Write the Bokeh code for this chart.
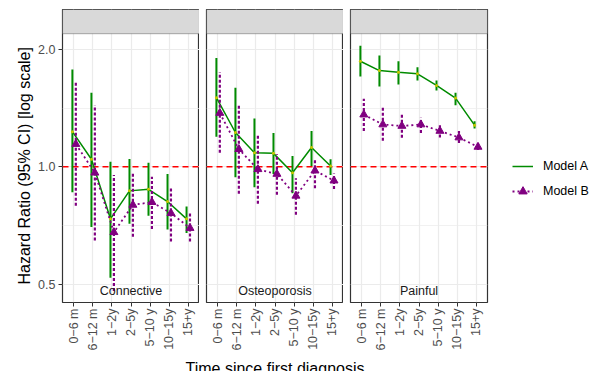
import numpy as np
from bokeh.plotting import figure
from bokeh.layouts import row, column
from bokeh.models import (Range1d, FixedTicker, PrintfTickFormatter, Span, BoxAnnotation,
                          Label, Legend, LegendItem, Title)
from bokeh.embed import file_html
from bokeh.resources import INLINE

# ---------------- data ----------------
periods = ["0−6 m", "6−12 m", "1−2y", "2−5y", "5−10 y", "10−15y", "15+y"]
panels = ["Connective", "Osteoporosis", "Painful"]
y_ticks = [0.5, 1.0, 2.0]

conn_a_hr = [1.23, 1.045, 0.735, 0.867, 0.875, 0.814, 0.735]
conn_a_lo = [0.86, 0.70, 0.519, 0.714, 0.749, 0.690, 0.676]
conn_a_hi = [1.775, 1.548, 1.03, 1.046, 1.024, 0.958, 0.79]
conn_b_hr = [1.143, 0.965, 0.679, 0.798, 0.811, 0.76, 0.696]
conn_b_lo = [0.794, 0.647, 0.48, 0.661, 0.692, 0.643, 0.643]
conn_b_hi = [1.647, 1.437, 0.952, 0.961, 0.943, 0.889, 0.76]

osteo_a_hr = [1.503, 1.224, 1.086, 1.082, 0.965, 1.12, 1.004]
osteo_a_lo = [1.193, 0.94, 0.886, 0.958, 0.855, 1.004, 0.952]
osteo_a_hi = [1.90, 1.594, 1.329, 1.221, 1.065, 1.235, 1.045]
osteo_b_hr = [1.373, 1.109, 0.985, 0.958, 0.842, 0.977, 0.921]
osteo_b_lo = [1.086, 0.852, 0.803, 0.847, 0.753, 0.881, 0.877]
osteo_b_hi = [1.747, 1.445, 1.205, 1.078, 0.934, 1.045, 0.961]

pain_a_hr = [1.864, 1.764, 1.747, 1.731, 1.616, 1.50, 1.278]
pain_a_lo = [1.704, 1.607, 1.625, 1.664, 1.569, 1.437, 1.253]
pain_a_hi = [2.044, 1.928, 1.864, 1.799, 1.664, 1.548, 1.308]
pain_b_hr = [1.36, 1.283, 1.272, 1.283, 1.235, 1.188, 1.124]
pain_b_lo = [1.235, 1.165, 1.186, 1.221, 1.188, 1.151, 1.103]
pain_b_hi = [1.495, 1.417, 1.368, 1.336, 1.278, 1.235, 1.151]

panel_data = {
    "Connective": (conn_a_hr, conn_a_lo, conn_a_hi, conn_b_hr, conn_b_lo, conn_b_hi),
    "Osteoporosis": (osteo_a_hr, osteo_a_lo, osteo_a_hi, osteo_b_hr, osteo_b_lo, osteo_b_hi),
    "Painful": (pain_a_hr, pain_a_lo, pain_a_hi, pain_b_hr, pain_b_lo, pain_b_hi),
}

x_title = "Time since first diagnosis"
y_title = "Hazard Ratio (95% CI) [log scale]"

# ---------------- style ----------------
FONT = "Liberation Sans"
GREEN = "#008B00"
PURPLE = "#800080"
DODGE_A = -0.08
DODGE_B = 0.10
Y_LO, Y_HI = 0.4484, 2.531
STRIP_BOTTOM = 2.1937
FW = 137
PANEL_H = 353          # total height of each panel figure (fixed)
TOTAL_W = 595
TH = 18                # height of the shared x-title strip

xpos = np.arange(1, len(periods) + 1)

figs = []
for i, name in enumerate(panels):
    first = i == 0
    last = i == len(panels) - 1
    a_hr, a_lo, a_hi, b_hr, b_lo, b_hi = panel_data[name]
    p = figure(frame_width=FW, height=PANEL_H, y_axis_type="log",
               x_range=Range1d(0.4, len(periods) + 0.6), y_range=Range1d(Y_LO, Y_HI),
               output_backend="svg", toolbar_location=None,
               y_axis_location="left" if first else None,
               min_border_left=62 if first else 7, min_border_right=108 if last else 0,
               min_border_top=9, min_border_bottom=50,
               background_fill_color="white", border_fill_color="white",
               outline_line_color="#333333", outline_line_width=1.2)

    # grids
    p.xgrid.ticker = FixedTicker(ticks=list(xpos))
    p.xgrid.grid_line_color = "#EBEBEB"
    p.xgrid.grid_line_width = 1.2
    minor = list(np.sqrt(np.array(y_ticks[:-1]) * np.array(y_ticks[1:])))
    p.ygrid.ticker = FixedTicker(ticks=y_ticks, minor_ticks=minor)
    p.ygrid.grid_line_color = "#EBEBEB"
    p.ygrid.grid_line_width = 1.2
    p.ygrid.minor_grid_line_color = "#EBEBEB"
    p.ygrid.minor_grid_line_width = 0.7

    # reference line
    p.add_layout(Span(location=1.0, dimension="width", line_color="red",
                      line_dash="6 4", line_width=1.5, level="underlay"))

    xa = xpos + DODGE_A
    xb = xpos + DODGE_B
    # Model A
    p.segment(x0=xa, y0=a_lo, x1=xa, y1=a_hi, line_color=GREEN, line_width=2)
    la = p.line(xa, a_hr, line_color=GREEN, line_width=1.5)
    p.scatter(xa, a_hr, marker="circle", size=3, fill_color="#C8C800", line_color=None)
    # Model B
    p.segment(x0=xb, y0=b_lo, x1=xb, y1=b_hi, line_color=PURPLE, line_width=2.2,
              line_dash="3 2")
    lb = p.line(xb, b_hr, line_color=PURPLE, line_width=1.8, line_dash="2 3")
    pb = p.scatter(xb, b_hr, marker="triangle", size=8, fill_color=PURPLE,
                   line_color=PURPLE)

    # strip (facet label)
    p.add_layout(BoxAnnotation(bottom=STRIP_BOTTOM, fill_color="#D9D9D9", fill_alpha=1,
                               line_color="#333333", line_width=1.2))
    p.add_layout(Label(x=FW / 2, y=12, x_units="screen", y_units="screen", text=name,
                       text_align="center", text_baseline="middle",
                       text_font=FONT, text_font_size="12.5px", text_color="#1A1A1A"))

    # x axis
    ax = p.xaxis[0]
    ax.ticker = FixedTicker(ticks=list(xpos))
    ax.major_label_overrides = {int(k): lab for k, lab in zip(xpos, periods)}
    ax.major_label_orientation = np.pi / 2
    ax.major_label_text_font = FONT
    ax.major_label_text_font_size = "12.5px"
    ax.major_label_text_color = "#4D4D4D"
    ax.major_label_standoff = 2
    ax.major_tick_in = 0
    ax.major_tick_out = 4
    ax.major_tick_line_color = "#333333"
    ax.minor_tick_line_color = None
    ax.axis_line_color = None

    if first:
        yax = p.yaxis[0]
        yax.ticker = FixedTicker(ticks=y_ticks)
        yax.formatter = PrintfTickFormatter(format="%.1f")
        yax.major_label_text_font = FONT
        yax.major_label_text_font_size = "12.5px"
        yax.major_label_text_color = "#4D4D4D"
        yax.major_label_standoff = 3
        yax.major_tick_in = 0
        yax.major_tick_out = 4
        yax.major_tick_line_color = "#333333"
        yax.minor_tick_line_color = None
        yax.axis_line_color = None
        p.add_layout(Title(text=y_title, align="left",
                           offset=18, standoff=6, text_font=FONT, text_font_size="16px",
                           text_font_style="normal", text_color="black"), "left")
    if last:
        legend = Legend(items=[LegendItem(label="Model A", renderers=[la]),
                               LegendItem(label="Model B", renderers=[lb, pb])],
                        location=(25, 100), padding=0, margin=0,
                        glyph_width=21, glyph_height=22, spacing=3, label_standoff=10,
                        label_text_font=FONT, label_text_font_size="12.5px",
                        label_text_color="black", border_line_color=None,
                        background_fill_alpha=0)
        p.add_layout(legend, "right")
    figs.append(p)

# shared x-axis title strip below the panels
tf = figure(title=None, width=TOTAL_W, height=TH, min_border=0,
            x_axis_location=None, y_axis_location=None,
            output_backend="svg", toolbar_location=None,
            outline_line_color=None, background_fill_color="white",
            border_fill_color="white")
tf.xgrid.visible = False
tf.ygrid.visible = False
tf.add_layout(Label(x=274.5, y=3.5, x_units="screen", y_units="screen", text=x_title,
                    text_align="center", text_baseline="alphabetic",
                    text_font=FONT, text_font_size="16px", text_color="black"))

layout = column(row(*figs), tf)
open("out.html", "w").write(file_html(layout, INLINE))
